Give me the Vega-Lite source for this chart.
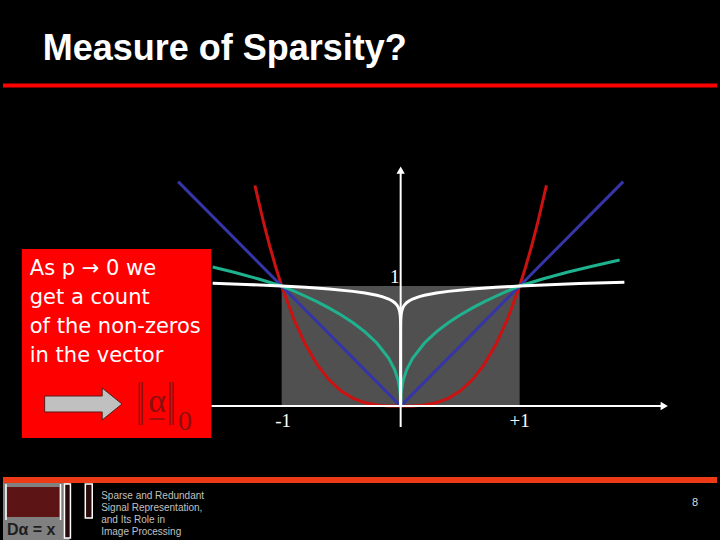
{
 "$schema": "https://vega.github.io/schema/vega-lite/v6.json",
 "width": 720, "height": 540,
 "autosize": {"type": "fit", "contains": "padding"},
 "padding": 0,
 "background": "#000000",
 "config": {"view": {"stroke": null}, "axis": {"disable": true}},
 "datasets": {
  "bands": [
   {"kind": "top", "x": -3.3417, "x2": 2.6583, "y": 2.671},
   {"kind": "foot", "x": -3.3417, "x2": 2.6583, "y": -0.6167}
  ],
  "rects": [
   {"kind": "square", "x": -1, "x2": 1, "y": 0, "y2": 1},
   {"kind": "box", "x": -3.1833, "x2": -1.5917, "y": 1.3083, "y2": -0.2667},
   {"kind": "logo", "x": -3.3417, "x2": -2.7833, "y": -0.6417, "y2": -1.1167},
   {"kind": "matrix", "x": -3.3083, "x2": -2.8667, "y": -0.675, "y2": -0.925},
   {"kind": "vec", "x": -2.825, "x2": -2.775, "y": -0.65, "y2": -1.1},
   {"kind": "vec", "x": -2.65, "x2": -2.5917, "y": -0.65, "y2": -0.9333}
  ],
  "curves": [
   {"c": "p3", "x": -1.225, "y": 1.838}, {"c": "p3", "x": -1.15, "y": 1.521}, {"c": "p3", "x": -1.1, "y": 1.331}, {"c": "p3", "x": -1.05, "y": 1.158}, {"c": "p3", "x": -1.0, "y": 1.0}, {"c": "p3", "x": -0.9, "y": 0.729}, {"c": "p3", "x": -0.8, "y": 0.512}, {"c": "p3", "x": -0.7, "y": 0.343}, {"c": "p3", "x": -0.6, "y": 0.216}, {"c": "p3", "x": -0.5, "y": 0.125}, {"c": "p3", "x": -0.4, "y": 0.064}, {"c": "p3", "x": -0.3, "y": 0.027}, {"c": "p3", "x": -0.2, "y": 0.008}, {"c": "p3", "x": -0.1, "y": 0.001}, {"c": "p3", "x": 0, "y": 0},
   {"c": "p3", "x": 0.1, "y": 0.001}, {"c": "p3", "x": 0.2, "y": 0.008}, {"c": "p3", "x": 0.3, "y": 0.027}, {"c": "p3", "x": 0.4, "y": 0.064}, {"c": "p3", "x": 0.5, "y": 0.125}, {"c": "p3", "x": 0.6, "y": 0.216}, {"c": "p3", "x": 0.7, "y": 0.343}, {"c": "p3", "x": 0.8, "y": 0.512}, {"c": "p3", "x": 0.9, "y": 0.729}, {"c": "p3", "x": 1.0, "y": 1.0}, {"c": "p3", "x": 1.05, "y": 1.158}, {"c": "p3", "x": 1.1, "y": 1.331}, {"c": "p3", "x": 1.15, "y": 1.521}, {"c": "p3", "x": 1.225, "y": 1.838},
   {"c": "p1", "x": -1.87, "y": 1.87}, {"c": "p1", "x": 0, "y": 0}, {"c": "p1", "x": 1.87, "y": 1.87},
   {"c": "p04", "x": -1.58, "y": 1.158}, {"c": "p04", "x": -1.4, "y": 1.114}, {"c": "p04", "x": -1.2, "y": 1.06}, {"c": "p04", "x": -1.0, "y": 1.0}, {"c": "p04", "x": -0.9, "y": 0.9587}, {"c": "p04", "x": -0.8, "y": 0.9146}, {"c": "p04", "x": -0.7, "y": 0.867}, {"c": "p04", "x": -0.6, "y": 0.8152}, {"c": "p04", "x": -0.5, "y": 0.7579}, {"c": "p04", "x": -0.4, "y": 0.6931}, {"c": "p04", "x": -0.3, "y": 0.6178}, {"c": "p04", "x": -0.2, "y": 0.5253}, {"c": "p04", "x": -0.1, "y": 0.3981}, {"c": "p04", "x": -0.05, "y": 0.3017}, {"c": "p04", "x": -0.02, "y": 0.2091}, {"c": "p04", "x": -0.005, "y": 0.1201}, {"c": "p04", "x": -0.001, "y": 0.0631}, {"c": "p04", "x": 0, "y": 0},
   {"c": "p04", "x": 0.001, "y": 0.0631}, {"c": "p04", "x": 0.005, "y": 0.1201}, {"c": "p04", "x": 0.02, "y": 0.2091}, {"c": "p04", "x": 0.05, "y": 0.3017}, {"c": "p04", "x": 0.1, "y": 0.3981}, {"c": "p04", "x": 0.2, "y": 0.5253}, {"c": "p04", "x": 0.3, "y": 0.6178}, {"c": "p04", "x": 0.4, "y": 0.6931}, {"c": "p04", "x": 0.5, "y": 0.7579}, {"c": "p04", "x": 0.6, "y": 0.8152}, {"c": "p04", "x": 0.7, "y": 0.867}, {"c": "p04", "x": 0.8, "y": 0.9146}, {"c": "p04", "x": 0.9, "y": 0.9587}, {"c": "p04", "x": 1.0, "y": 1.0}, {"c": "p04", "x": 1.2, "y": 1.06}, {"c": "p04", "x": 1.4, "y": 1.114}, {"c": "p04", "x": 1.6, "y": 1.162}, {"c": "p04", "x": 1.84, "y": 1.216},
   {"c": "p005", "x": -1.58, "y": 1.023}, {"c": "p005", "x": -1.3, "y": 1.013}, {"c": "p005", "x": -1.0, "y": 1.0}, {"c": "p005", "x": -0.8, "y": 0.9889}, {"c": "p005", "x": -0.6, "y": 0.9748}, {"c": "p005", "x": -0.4, "y": 0.9552}, {"c": "p005", "x": -0.3, "y": 0.9416}, {"c": "p005", "x": -0.2, "y": 0.9227}, {"c": "p005", "x": -0.15, "y": 0.9095}, {"c": "p005", "x": -0.1, "y": 0.8913}, {"c": "p005", "x": -0.07, "y": 0.8755}, {"c": "p005", "x": -0.05, "y": 0.8609}, {"c": "p005", "x": -0.03, "y": 0.8392}, {"c": "p005", "x": -0.02, "y": 0.8223}, {"c": "p005", "x": -0.01, "y": 0.7943}, {"c": "p005", "x": -0.005, "y": 0.7673}, {"c": "p005", "x": -0.002, "y": 0.7329}, {"c": "p005", "x": -0.0005, "y": 0.6839}, {"c": "p005", "x": -0.0001, "y": 0.631}, {"c": "p005", "x": 0, "y": 0},
   {"c": "p005", "x": 0.0001, "y": 0.631}, {"c": "p005", "x": 0.0005, "y": 0.6839}, {"c": "p005", "x": 0.002, "y": 0.7329}, {"c": "p005", "x": 0.005, "y": 0.7673}, {"c": "p005", "x": 0.01, "y": 0.7943}, {"c": "p005", "x": 0.02, "y": 0.8223}, {"c": "p005", "x": 0.03, "y": 0.8392}, {"c": "p005", "x": 0.05, "y": 0.8609}, {"c": "p005", "x": 0.07, "y": 0.8755}, {"c": "p005", "x": 0.1, "y": 0.8913}, {"c": "p005", "x": 0.15, "y": 0.9095}, {"c": "p005", "x": 0.2, "y": 0.9227}, {"c": "p005", "x": 0.3, "y": 0.9416}, {"c": "p005", "x": 0.4, "y": 0.9552}, {"c": "p005", "x": 0.6, "y": 0.9748}, {"c": "p005", "x": 0.8, "y": 0.9889}, {"c": "p005", "x": 1.0, "y": 1.0}, {"c": "p005", "x": 1.3, "y": 1.013}, {"c": "p005", "x": 1.5, "y": 1.02}, {"c": "p005", "x": 1.88, "y": 1.032}
  ],
  "axes": [
   {"x": -1.59, "x2": 2.2, "y": 0, "y2": 0},
   {"x": 0, "x2": 0, "y": -0.175, "y2": 1.95}
  ],
  "heads": [
   {"dir": "right", "x": 2.215, "y": 0},
   {"dir": "up", "x": 0, "y": 1.965}
  ],
  "arrow": [
   {"x": -2.9917, "y": 0.0833, "y2": -0.05},
   {"x": -2.5083, "y": 0.0833, "y2": -0.05},
   {"x": -2.5082, "y": 0.15, "y2": -0.1167},
   {"x": -2.3417, "y": 0.0167, "y2": 0.0167}
  ],
  "vrules": [
   {"kind": "norm", "x": -2.1958, "y": 0.2, "y2": -0.1583},
   {"kind": "norm", "x": -2.1708, "y": 0.2, "y2": -0.1583},
   {"kind": "norm", "x": -1.9375, "y": 0.2, "y2": -0.1583},
   {"kind": "norm", "x": -1.9125, "y": 0.2, "y2": -0.1583},
   {"kind": "bracket", "x": -3.3167, "y": -0.65, "y2": -0.95},
   {"kind": "bracket", "x": -2.8583, "y": -0.65, "y2": -0.95}
  ],
  "hrules": [
   {"x": -2.1083, "x2": -1.9833, "y": -0.1083}
  ],
  "texts": [
   {"kind": "title", "t": "Measure of Sparsity?", "x": -3.0083, "y": 2.8833},
   {"kind": "tick", "t": "1", "x": -0.05, "y": 1.025},
   {"kind": "tick", "t": "-1", "x": -0.9875, "y": -0.175},
   {"kind": "tick", "t": "+1", "x": 1.0, "y": -0.175},
   {"kind": "box", "t": "As p → 0 we", "x": -3.1167, "y": 1.0917},
   {"kind": "box", "t": "get a count", "x": -3.1167, "y": 0.85},
   {"kind": "box", "t": "of the non-zeros", "x": -3.1167, "y": 0.6083},
   {"kind": "box", "t": "in the vector", "x": -3.1167, "y": 0.3667},
   {"kind": "alpha", "t": "α", "x": -2.0458, "y": -0.05},
   {"kind": "sub", "t": "0", "x": -1.8125, "y": -0.2},
   {"kind": "logo", "t": "Dα = x", "x": -3.3083, "y": -1.075},
   {"kind": "foot", "t": "Sparse and Redundant", "x": -2.5167, "y": -0.775},
   {"kind": "foot", "t": "Signal Representation,", "x": -2.5167, "y": -0.875},
   {"kind": "foot", "t": "and Its Role in", "x": -2.5167, "y": -0.975},
   {"kind": "foot", "t": "Image Processing", "x": -2.5167, "y": -1.075},
   {"kind": "page", "t": "8", "x": 2.475, "y": -0.8333}
  ]
 },
 "encoding": {
  "x": {"field": "x", "type": "quantitative", "scale": {"domain": [-3.3417, 2.6583], "nice": false, "zero": false}, "axis": null},
  "y": {"field": "y", "type": "quantitative", "scale": {"domain": [-1.1167, 3.3833], "nice": false, "zero": false}, "axis": null}
 },
 "layer": [
  {"data": {"name": "bands"}, "transform": [{"filter": "datum.kind == 'top'"}], "mark": {"type": "rule", "color": "#ff0000", "strokeWidth": 4}, "encoding": {"x2": {"field": "x2"}}},
  {"data": {"name": "bands"}, "transform": [{"filter": "datum.kind == 'foot'"}], "mark": {"type": "rule", "color": "#ee3b17", "strokeWidth": 6}, "encoding": {"x2": {"field": "x2"}}},
  {"data": {"name": "rects"}, "transform": [{"filter": "datum.kind == 'square'"}], "mark": {"type": "rect", "color": "#505050"}, "encoding": {"x2": {"field": "x2"}, "y2": {"field": "y2"}}},
  {"data": {"name": "curves"}, "transform": [{"filter": "datum.c == 'p3'"}], "mark": {"type": "line", "color": "#cc1111", "strokeWidth": 3}, "encoding": {}},
  {"data": {"name": "curves"}, "transform": [{"filter": "datum.c == 'p1'"}], "mark": {"type": "line", "color": "#3535a8", "strokeWidth": 3}, "encoding": {}},
  {"data": {"name": "curves"}, "transform": [{"filter": "datum.c == 'p04'"}], "mark": {"type": "line", "color": "#1fb28e", "strokeWidth": 3}, "encoding": {}},
  {"data": {"name": "curves"}, "transform": [{"filter": "datum.c == 'p005'"}], "mark": {"type": "line", "color": "#ffffff", "strokeWidth": 3}, "encoding": {}},
  {"data": {"name": "axes"}, "mark": {"type": "rule", "color": "#ffffff", "strokeWidth": 2}, "encoding": {"x2": {"field": "x2"}, "y2": {"field": "y2"}}},
  {"data": {"name": "heads"}, "transform": [{"filter": "datum.dir == 'right'"}], "mark": {"type": "point", "shape": "triangle-right", "filled": true, "color": "#ffffff", "size": 70, "opacity": 1}},
  {"data": {"name": "heads"}, "transform": [{"filter": "datum.dir == 'up'"}], "mark": {"type": "point", "shape": "triangle-up", "filled": true, "color": "#ffffff", "size": 70, "opacity": 1}},
  {"data": {"name": "texts"}, "transform": [{"filter": "datum.kind == 'tick'"}], "mark": {"type": "text", "font": "Liberation Serif", "fontSize": 19, "color": "#ffffff", "align": "center", "baseline": "alphabetic"}, "encoding": {"text": {"field": "t"}}},
  {"data": {"name": "rects"}, "transform": [{"filter": "datum.kind == 'box'"}], "mark": {"type": "rect", "color": "#ff0000"}, "encoding": {"x2": {"field": "x2"}, "y2": {"field": "y2"}}},
  {"data": {"name": "texts"}, "transform": [{"filter": "datum.kind == 'box'"}], "mark": {"type": "text", "font": "DejaVu Sans", "fontSize": 21, "color": "#ffffff", "align": "left", "baseline": "alphabetic"}, "encoding": {"text": {"field": "t"}}},
  {"data": {"name": "arrow"}, "mark": {"type": "area", "color": "#c0c0c0", "stroke": "#5a1a1a", "strokeWidth": 1, "opacity": 1}, "encoding": {"y2": {"field": "y2"}}},
  {"data": {"name": "vrules"}, "transform": [{"filter": "datum.kind == 'norm'"}], "mark": {"type": "rule", "color": "#8c0f0f", "strokeWidth": 1.5}, "encoding": {"y2": {"field": "y2"}}},
  {"data": {"name": "hrules"}, "mark": {"type": "rule", "color": "#8c0f0f", "strokeWidth": 1.5}, "encoding": {"x2": {"field": "x2"}}},
  {"data": {"name": "texts"}, "transform": [{"filter": "datum.kind == 'alpha'"}], "mark": {"type": "text", "font": "Liberation Serif", "fontSize": 34, "color": "#8c0f0f", "align": "center", "baseline": "alphabetic"}, "encoding": {"text": {"field": "t"}}},
  {"data": {"name": "texts"}, "transform": [{"filter": "datum.kind == 'sub'"}], "mark": {"type": "text", "font": "Liberation Serif", "fontSize": 28, "color": "#8c0f0f", "align": "center", "baseline": "alphabetic"}, "encoding": {"text": {"field": "t"}}},
  {"data": {"name": "texts"}, "transform": [{"filter": "datum.kind == 'title'"}], "mark": {"type": "text", "font": "Liberation Sans", "fontWeight": "bold", "fontSize": 36, "color": "#ffffff", "align": "left", "baseline": "alphabetic"}, "encoding": {"text": {"field": "t"}}},
  {"data": {"name": "rects"}, "transform": [{"filter": "datum.kind == 'logo'"}], "mark": {"type": "rect", "color": "#808080"}, "encoding": {"x2": {"field": "x2"}, "y2": {"field": "y2"}}},
  {"data": {"name": "rects"}, "transform": [{"filter": "datum.kind == 'matrix'"}], "mark": {"type": "rect", "color": "#5c1414"}, "encoding": {"x2": {"field": "x2"}, "y2": {"field": "y2"}}},
  {"data": {"name": "rects"}, "transform": [{"filter": "datum.kind == 'vec'"}], "mark": {"type": "rect", "fill": "#2a0a0a", "stroke": "#ffffff", "strokeWidth": 1.5}, "encoding": {"x2": {"field": "x2"}, "y2": {"field": "y2"}}},
  {"data": {"name": "vrules"}, "transform": [{"filter": "datum.kind == 'bracket'"}], "mark": {"type": "rule", "color": "#ffffff", "strokeWidth": 1.5}, "encoding": {"y2": {"field": "y2"}}},
  {"data": {"name": "texts"}, "transform": [{"filter": "datum.kind == 'logo'"}], "mark": {"type": "text", "font": "Liberation Sans", "fontWeight": "bold", "fontSize": 16, "color": "#1e1e1e", "align": "left", "baseline": "alphabetic"}, "encoding": {"text": {"field": "t"}}},
  {"data": {"name": "texts"}, "transform": [{"filter": "datum.kind == 'foot'"}], "mark": {"type": "text", "font": "Liberation Sans", "fontSize": 10, "color": "#c0c0c0", "align": "left", "baseline": "alphabetic"}, "encoding": {"text": {"field": "t"}}},
  {"data": {"name": "texts"}, "transform": [{"filter": "datum.kind == 'page'"}], "mark": {"type": "text", "font": "Liberation Sans", "fontSize": 11, "color": "#dddddd", "align": "center", "baseline": "alphabetic"}, "encoding": {"text": {"field": "t"}}}
 ]
}
